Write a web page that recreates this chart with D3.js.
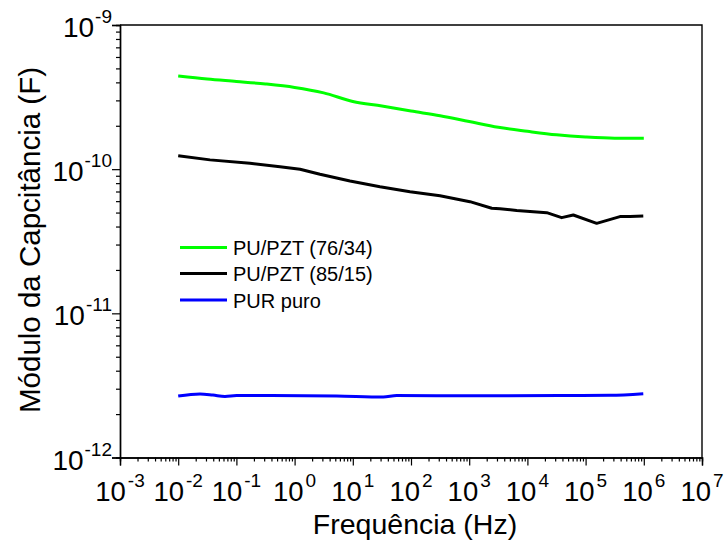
<!DOCTYPE html>
<html><head><meta charset="utf-8">
<script src="https://cdn.jsdelivr.net/npm/d3@7"></script>
<style>body{margin:0;background:#fff}svg{display:block}text{font-family:"Liberation Sans",Arial,sans-serif}</style>
</head><body><svg id="c" width="726" height="540"></svg>
<script>
const seriesNames = ["PU/PZT (76/34)", "PU/PZT (85/15)", "PUR puro"];
const seriesColors = ["#00ff00", "#000000", "#0000ff"];
const greenFreq = [0.01, 0.0316, 0.1, 0.316, 1, 3.16, 10, 31.6, 100, 316, 1000, 3160, 10000, 31600, 100000, 316000, 1000000];
const greenCap = [4.43e-10, 4.22e-10, 4.06e-10, 3.90e-10, 3.69e-10, 3.38e-10, 2.95e-10, 2.74e-10, 2.53e-10, 2.35e-10, 2.14e-10, 1.95e-10, 1.83e-10, 1.73e-10, 1.67e-10, 1.64e-10, 1.64e-10];
const blackFreq = [0.01, 0.0352, 0.171, 0.561, 1.24, 2.73, 8.95, 29.3, 96.2, 315, 1030, 2440, 3380, 6550, 21500, 38800, 61500, 155000, 389000, 580000, 980000];
const blackCap = [1.24e-10, 1.16e-10, 1.10e-10, 1.04e-10, 9.98e-11, 9.22e-11, 8.28e-11, 7.56e-11, 6.98e-11, 6.55e-11, 5.95e-11, 5.36e-11, 5.32e-11, 5.16e-11, 4.99e-11, 4.61e-11, 4.81e-11, 4.21e-11, 4.69e-11, 4.69e-11, 4.73e-11];
const blueFreq = [0.01, 0.0237, 0.0396, 0.0637, 0.101, 0.378, 5.28, 33.4, 56.8, 1530, 36300, 263000, 980000];
const blueCap = [2.67e-12, 2.76e-12, 2.71e-12, 2.65e-12, 2.69e-12, 2.69e-12, 2.67e-12, 2.63e-12, 2.69e-12, 2.68e-12, 2.69e-12, 2.70e-12, 2.77e-12];
const xTickExp = [-3, -2, -1, 0, 1, 2, 3, 4, 5, 6, 7];
const yTickExp = [-12, -11, -10, -9];
const xTitle = "Frequência (Hz)";
const yTitle = "Módulo da Capcitância (F)";

const svg = d3.select("#c");
const L = 120, R = 702, T = 25, B = 457.5;
const x = d3.scaleLog().domain([1e-3, 1e7]).range([L, R]);
const y = d3.scaleLog().domain([1e-12, 1e-9]).range([B, T]);

svg.append("path").attr("d", `M${L},${T}H${R}V${B}`).attr("fill", "none").attr("stroke", "#000").attr("stroke-width", 1.4);

function minors(e0, e1) { const a = []; for (let e = e0; e < e1; e++) for (let m = 2; m <= 9; m++) a.push(m * Math.pow(10, e)); return a; }

const xAxisMajor = d3.axisBottom(x).tickValues(xTickExp.map(e => Math.pow(10, e))).tickSize(8).tickFormat("");
const xAxisMinor = d3.axisBottom(x).tickValues(minors(-3, 7)).tickSize(4).tickFormat("");
const yAxisMajor = d3.axisLeft(y).tickValues(yTickExp.map(e => Math.pow(10, e))).tickSize(8).tickFormat("");
const yAxisMinor = d3.axisLeft(y).tickValues(minors(-12, -9)).tickSize(4).tickFormat("");

function style(g) { g.select(".domain").attr("stroke-width", 1.4); g.selectAll(".tick line").attr("stroke-width", 1.2); }
svg.append("g").attr("transform", `translate(0,${B})`).call(xAxisMinor).call(style);
svg.append("g").attr("transform", `translate(0,${B})`).call(xAxisMajor).call(style);
svg.append("g").attr("transform", `translate(${L},0)`).call(yAxisMinor).call(style);
svg.append("g").attr("transform", `translate(${L},0)`).call(yAxisMajor).call(style);

xTickExp.forEach(e => {
  const t = svg.append("text").attr("x", x(Math.pow(10, e))).attr("y", 501).attr("text-anchor", "middle").attr("font-size", 27.5);
  t.append("tspan").text("10");
  t.append("tspan").text(e).attr("font-size", 19).attr("dy", -14).attr("dx", 2);
});
yTickExp.forEach(e => {
  const t = svg.append("text").attr("x", 112).attr("y", y(Math.pow(10, e)) + 12).attr("text-anchor", "end").attr("font-size", 28);
  t.append("tspan").text("10");
  t.append("tspan").text(e).attr("font-size", 19).attr("dy", -14).attr("dx", 1);
});

svg.append("text").attr("x", 415).attr("y", 533.5).attr("text-anchor", "middle").attr("font-size", 28.5).text(xTitle);
svg.append("text").attr("transform", `translate(40,240) rotate(-90)`).attr("text-anchor", "middle").attr("font-size", 29.5).text(yTitle);

const series = [
  { f: greenFreq, v: greenCap, curve: d3.curveMonotoneX },
  { f: blackFreq, v: blackCap, curve: d3.curveLinear },
  { f: blueFreq, v: blueCap, curve: d3.curveMonotoneX }
];
series.forEach((s, i) => {
  const line = d3.line().x(d => x(d[0])).y(d => y(d[1])).curve(s.curve);
  svg.append("path").datum(s.f.map((f, k) => [f, s.v[k]])).attr("d", line)
    .attr("fill", "none").attr("stroke", seriesColors[i]).attr("stroke-width", 3).attr("stroke-linejoin", "round");
});

const legY = [247.5, 273.5, 300];
seriesNames.forEach((n, i) => {
  svg.append("line").attr("x1", 180).attr("x2", 227).attr("y1", legY[i]).attr("y2", legY[i]).attr("stroke", seriesColors[i]).attr("stroke-width", 3);
  svg.append("text").attr("x", 233).attr("y", legY[i] + 7.5).attr("font-size", 20).text(n);
});
</script></body></html>
